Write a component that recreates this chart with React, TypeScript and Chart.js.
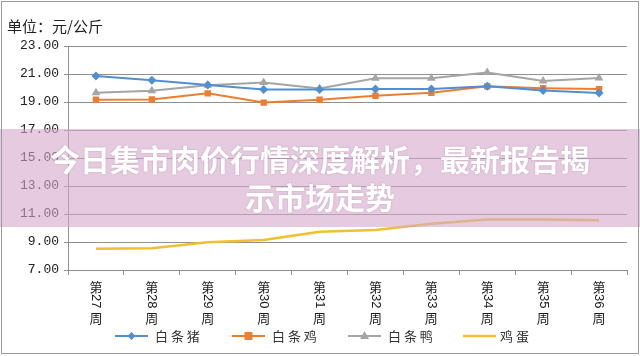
import React, { useEffect, useRef } from "react";
import { Chart, registerables } from "chart.js";

Chart.register(...registerables);

const weeks = ["27", "28", "29", "30", "31", "32", "33", "34", "35", "36"];
const categories = weeks.map((w) => "第" + w + "周");
const pork = [20.86, 20.56, 20.22, 19.9, 19.9, 19.92, 19.92, 20.12, 19.82, 19.64];
const chicken = [19.16, 19.18, 19.62, 18.96, 19.16, 19.45, 19.66, 20.12, 19.98, 19.92];
const duck = [19.66, 19.8, 20.2, 20.4, 19.96, 20.7, 20.7, 21.1, 20.5, 20.72];
const eggs = [8.52, 8.55, 8.98, 9.14, 9.74, 9.86, 10.3, 10.6, 10.6, 10.56];
const seriesNames = ["白条猪", "白条鸡", "白条鸭", "鸡蛋"];
const seriesColors = ["#4f8fd2", "#ed7d31", "#a5a5a5", "#f0c030"];
const seriesMarkers = ["rectRot", "rect", "triangle", false];
const yTicksMin = 7;
const yTicksMax = 23;
const yStep = 2;

const GRID = "#909090";

export default function App() {
  const ref = useRef<HTMLCanvasElement | null>(null);

  useEffect(() => {
    document.body.style.margin = "0";
    const canvas = ref.current;
    if (!canvas) return;

    const customPlugin = {
      id: "custom",
      afterDraw(chart: any) {
        const ctx = chart.ctx;
        const xs = chart.scales.x;
        ctx.save();
        ctx.fillStyle = "#1a1a1a";
        // vertical x labels
        categories.forEach((_, i) => {
          const x = xs.getPixelForTick(i);
          ctx.font = "13px 'Noto Sans CJK SC'";
          ctx.textAlign = "center";
          ctx.textBaseline = "middle";
          ctx.fillText("第", x, 287);
          ctx.save();
          ctx.translate(x, 294);
          ctx.rotate(Math.PI / 2);
          ctx.font = "13px 'Liberation Sans'";
          ctx.textAlign = "left";
          ctx.textBaseline = "middle";
          ctx.fillText(weeks[i], 0, 0);
          ctx.restore();
          ctx.font = "13px 'Noto Sans CJK SC'";
          ctx.textAlign = "center";
          ctx.fillText("周", x, 318);
        });
        // legend
        const items = [
          { lx: 115, tx: 155 },
          { lx: 232, tx: 272 },
          { lx: 348, tx: 388 },
          { lx: 463, tx: 500 },
        ];
        const ly = 336;
        items.forEach((it, i) => {
          ctx.strokeStyle = seriesColors[i];
          ctx.lineWidth = i === 3 ? 2.5 : 2;
          ctx.beginPath();
          ctx.moveTo(it.lx, ly);
          ctx.lineTo(it.lx + 33, ly);
          ctx.stroke();
          const m = seriesMarkers[i];
          const cx = it.lx + 16.5;
          ctx.fillStyle = seriesColors[i];
          if (m === "rectRot") {
            ctx.beginPath();
            ctx.moveTo(cx, ly - 4);
            ctx.lineTo(cx + 4, ly);
            ctx.lineTo(cx, ly + 4);
            ctx.lineTo(cx - 4, ly);
            ctx.closePath();
            ctx.fill();
          } else if (m === "rect") {
            ctx.fillRect(cx - 4, ly - 4, 8, 8);
          } else if (m === "triangle") {
            ctx.beginPath();
            ctx.moveTo(cx, ly - 5);
            ctx.lineTo(cx + 4.5, ly + 3);
            ctx.lineTo(cx - 4.5, ly + 3);
            ctx.closePath();
            ctx.fill();
          }
          ctx.fillStyle = "#333";
          ctx.font = "13px 'Noto Sans CJK SC'";
          ctx.textAlign = "left";
          ctx.textBaseline = "middle";
          ctx.fillText(seriesNames[i].split("").join(" "), it.tx, ly);
        });
        ctx.restore();
      },
    };

    const datasets = [pork, chicken, duck, eggs].map((d, i) => ({
      label: seriesNames[i],
      data: d,
      borderColor: seriesColors[i],
      backgroundColor: seriesColors[i],
      borderWidth: i === 3 ? 2.5 : 2,
      pointStyle: seriesMarkers[i] as any,
      pointRadius: seriesMarkers[i] ? (i === 2 ? 5 : 4.5) : 0,
      pointBorderWidth: 0,
      tension: 0,
      fill: false,
    }));

    const chart = new Chart(canvas, {
      type: "line",
      data: { labels: categories, datasets },
      plugins: [customPlugin],
      options: {
        animation: false,
        responsive: false,
        maintainAspectRatio: false,
        layout: { padding: { top: 46, right: 13, left: 0, bottom: 0 } },
        plugins: {
          legend: { display: false },
          tooltip: { enabled: false },
          title: { display: false },
        },
        scales: {
          x: {
            offset: true,
            grid: {
              display: true,
              drawOnChartArea: false,
              drawTicks: true,
              tickLength: 5,
              offset: true,
              color: GRID,
            },
            border: { display: true, color: GRID, width: 1 },
            ticks: { display: false },
            afterFit(scale: any) {
              scale.height = 86;
            },
          },
          y: {
            min: yTicksMin,
            max: yTicksMax,
            ticks: {
              stepSize: yStep,
              callback: (v: any) => Number(v).toFixed(2),
              font: { family: "'Liberation Mono'", size: 13 },
              color: "#222",
              padding: 5,
            },
            grid: {
              color: GRID,
              lineWidth: 1,
              drawTicks: true,
              tickLength: 4,
            },
            border: { display: true, color: GRID, width: 1 },
            afterFit(scale: any) {
              scale.width = 68;
            },
          },
        },
      },
    });
    return () => chart.destroy();
  }, []);

  return (
    <div style={{ position: "fixed", left: 0, top: 0, width: 640, height: 356, background: "#fff", overflow: "hidden" }}>
      <canvas ref={ref} width={640} height={356} style={{ position: "absolute", left: 0, top: 0, width: 640, height: 356 }} />
      <div
        style={{
          position: "absolute",
          left: 7,
          top: 16,
          fontFamily: "'Noto Sans CJK SC'",
          fontSize: 15,
          lineHeight: "20px",
          color: "#222",
          whiteSpace: "nowrap",
        }}
      >
        单位：元/公斤
      </div>
      <div
        style={{
          position: "absolute",
          left: 0,
          top: 129,
          width: 640,
          height: 98,
          background: "rgba(212,166,203,0.6)",
          boxSizing: "border-box",
          paddingTop: 10,
          textAlign: "center",
          color: "#fff",
          fontFamily: "'Noto Sans CJK SC'",
          fontWeight: 700,
          fontSize: 30,
          lineHeight: "38px",
          textShadow: "0 0 2px rgba(120,80,110,0.35)",
        }}
      >
        <div>今日集市肉价行情深度解析，最新报告揭</div>
        <div>示市场走势</div>
      </div>
      <div
        style={{
          position: "absolute",
          left: 1,
          top: 1,
          width: 636,
          height: 351,
          border: "1px solid #9a9a9a",
          pointerEvents: "none",
        }}
      />
    </div>
  );
}
